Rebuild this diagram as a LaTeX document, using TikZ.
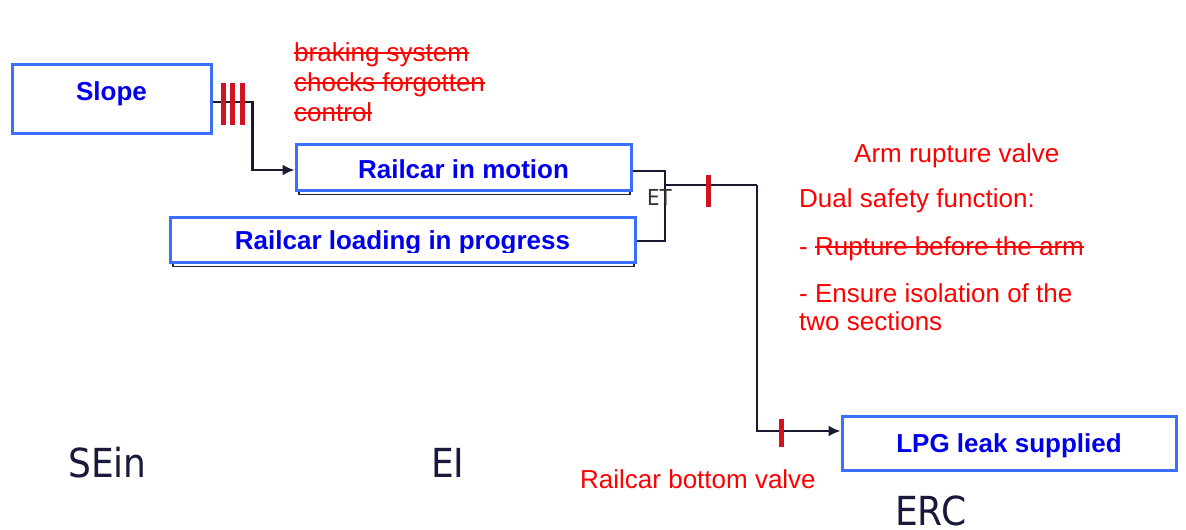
\documentclass[tikz,border=0pt]{standalone}
\usepackage{fontspec}
\setmainfont{Liberation Sans}
\newfontfamily\tahfont{DejaVu Sans}[FakeStretch=0.9]
\usetikzlibrary{arrows.meta}
\definecolor{boxblue}{RGB}{60,110,255}
\definecolor{txtblue}{RGB}{0,0,235}
\definecolor{conncol}{RGB}{25,25,50}
\definecolor{tickred}{RGB}{210,20,30}
\definecolor{navy}{RGB}{25,25,60}
\definecolor{etgray}{RGB}{50,50,50}
\newsavebox\strkbox
\newcommand\strk[1]{\sbox\strkbox{#1}\rlap{\usebox\strkbox}\rule[0.27em]{\wd\strkbox}{1.8pt}}
\tikzset{
  evbox/.style={draw=boxblue, line width=3pt, fill=white, inner sep=0pt,
    text=txtblue, font=\fontsize{26}{30}\selectfont\bfseries,
    text height=19pt, text depth=5pt},
  conn/.style={draw=conncol, line width=2.2pt},
  arr/.style={conn, -{Latex[length=12pt,width=11pt]}},
  barrier/.style={draw=tickred, line width=5pt},
  redtxt/.style={text=red, font=\fontsize{26}{30}\selectfont, anchor=base west, inner sep=0pt},
  tahlbl/.style={text=navy, font=\tahfont\fontsize{40}{44}\selectfont, anchor=base west, inner sep=0pt},
  shadowline/.style={draw=black!85, line width=1.8pt}
}
\begin{document}
\begin{tikzpicture}[x=1pt,y=-1pt]
\useasboundingbox (0,0) rectangle (1186,530);
\fill[white] (0,0) rectangle (1186,530);

% shadows
\draw[shadowline] (299,190) -- (299,194.5) -- (630,194.5) -- (630,190);
\draw[shadowline] (173,262) -- (173,266.5) -- (634,266.5) -- (634,262);

% boxes
\node[evbox, minimum width=199pt, minimum height=69pt] (slope) at (111.5,98.5) {\raisebox{5.5pt}{Slope}};
\node[evbox, minimum width=335pt, minimum height=46pt] (motion) at (463.5,167) {\raisebox{-4pt}{Railcar in motion}};
\node[evbox, minimum width=465pt, minimum height=45pt] (loading) at (402.5,239.5) {\raisebox{-2.5pt}{Railcar loading in progress}};
\node[evbox, minimum width=334pt, minimum height=54pt] (lpg) at (1009,443) {\raisebox{-2pt}{LPG leak supplied}};

% clipped descenders of the loading text
\fill[white] (200,252.5) rectangle (600,260.8);

% connectors
\coordinate (join) at (665,185);
\coordinate (bend) at (757,185);
\draw[arr] ([yshift=-3.5pt]slope.east) -- ++(40,0) |- ([yshift=-3pt]motion.west);
\draw[conn] ([yshift=-4pt]motion.east) -| (join);
\draw[conn] ([yshift=-1.5pt]loading.east) -| (join);
\draw[conn] (join) -- (bend);
\draw[arr] (bend) |- ([yshift=12pt]lpg.west);

% barriers
\draw[barrier] (223,83) -- (223,125);
\draw[barrier] (232.5,83) -- (232.5,125);
\draw[barrier] (242,83) -- (242,125);
\draw[barrier] (708,175) -- (708,207);
\draw[barrier] (781,419) -- (781,447);

% red texts
\node[redtxt] (s1) at (294,61) {\strk{braking system}};
\node[redtxt] (s2) at (294,91) {\strk{chocks forgotten}};
\node[redtxt] (s3) at (294,121) {\strk{control}};
\node[redtxt] (arv) at (854,162) {Arm rupture valve};
\node[redtxt] (dsf) at (799,207) {Dual safety function:};
\node[redtxt] (rup) at (799,255) {- \strk{Rupture before the arm}};
\node[redtxt] (ens1) at (799,302) {- Ensure isolation of the};
\node[redtxt] (ens2) at (799,330) {two sections};
\node[redtxt] (rbv) at (580,488) {Railcar bottom valve};

% gray labels
\node[tahlbl] (sein) at (68,477) {SEin};
\node[tahlbl] (ei) at (431,477) {EI};
\node[tahlbl] (erc) at (895,525) {ERC};
\node[text=etgray, font=\tahfont\fontsize{22}{24}\selectfont, anchor=base west, inner sep=0pt] (et) at (647,205) {ET};
\end{tikzpicture}
\end{document}
